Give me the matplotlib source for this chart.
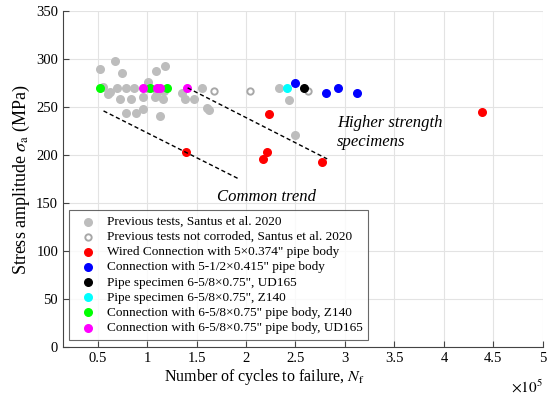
import matplotlib
matplotlib.use("Agg")
import matplotlib.pyplot as plt

plt.rcParams['font.family'] = ['Liberation Serif', 'DejaVu Serif']
plt.rcParams['mathtext.fontset'] = 'stix'

# ── dados (N em ciclos, sigma em MPa) ────────────────────────────────────────
prev_N = [0.52e5, 0.68e5, 0.75e5, 0.55e5, 0.63e5, 0.61e5, 0.70e5, 0.79e5, 0.87e5, 0.73e5,
          0.84e5, 0.79e5, 0.89e5, 0.96e5, 0.96e5, 1.01e5, 1.00e5, 1.09e5, 1.18e5, 1.08e5,
          1.10e5, 1.16e5, 1.13e5, 1.17e5, 1.35e5, 1.38e5, 1.47e5, 1.56e5, 1.61e5, 1.63e5,
          2.33e5, 2.43e5, 2.49e5]
prev_S = [290, 298, 286, 271, 266, 264, 270, 270, 270, 258,
          258, 244, 244, 248, 260, 276, 270, 288, 293, 261,
          265, 258, 241, 267, 265, 258, 258, 270, 249, 247,
          270, 257, 221]

prev_nc_N = [1.68e5, 2.04e5, 2.63e5]
prev_nc_S = [267, 267, 267]

wired_N = [1.39e5, 2.23e5, 2.21e5, 2.17e5, 2.77e5, 4.39e5]
wired_S = [203, 243, 203, 196, 193, 245]

conn55_N = [2.49e5, 2.81e5, 2.93e5, 3.12e5]
conn55_S = [275, 265, 270, 265]

pipe_ud_N = [2.59e5]
pipe_ud_S = [270]

pipe_z_N = [2.41e5]
pipe_z_S = [270]

conn_z_N = [0.52e5, 1.03e5, 1.20e5]
conn_z_S = [270, 270, 270]

conn_ud_N = [0.96e5, 1.10e5, 1.13e5, 1.40e5]
conn_ud_S = [270, 270, 270, 270]

trend_common_N = [0.56e5, 1.93e5]
trend_common_S = [246, 175]
trend_high_N = [1.41e5, 2.82e5]
trend_high_S = [270, 196]

xticks = [0.5e5, 1e5, 1.5e5, 2e5, 2.5e5, 3e5, 3.5e5, 4e5, 4.5e5, 5e5]
xtick_labels = ['0.5', '1', '1.5', '2', '2.5', '3', '3.5', '4', '4.5', '5']
yticks = [0, 50, 100, 150, 200, 250, 300, 350]

# ── gráfico ──────────────────────────────────────────────────────────────────
fig = plt.figure(figsize=(5.5, 3.97), dpi=100)
ax = fig.add_axes([0.1145, 0.126, 0.8725, 0.846])

ms = 30
ax.scatter(prev_N, prev_S, s=ms, color='#bdbdbd', label='Previous tests, Santus et al. 2020', zorder=3)
ax.scatter(prev_nc_N, prev_nc_S, s=ms * 0.7, facecolors='white', edgecolors='#a8a8a8', linewidths=1.4,
           label='Previous tests not corroded, Santus et al. 2020', zorder=3)
ax.scatter(wired_N, wired_S, s=ms, color='#ff0000', label='Wired Connection with 5×0.374" pipe body', zorder=4)
ax.scatter(conn55_N, conn55_S, s=ms, color='#0000ff', label='Connection with 5-1/2×0.415" pipe body', zorder=4)
ax.scatter(pipe_ud_N, pipe_ud_S, s=ms, color='black', label='Pipe specimen 6-5/8×0.75", UD165', zorder=4)
ax.scatter(pipe_z_N, pipe_z_S, s=ms, color='#00ffff', label='Pipe specimen 6-5/8×0.75", Z140', zorder=4)
ax.scatter(conn_z_N, conn_z_S, s=ms, color='#00ff00', label='Connection with 6-5/8×0.75" pipe body, Z140', zorder=4)
ax.scatter(conn_ud_N, conn_ud_S, s=ms, color='#ff00ff', label='Connection with 6-5/8×0.75" pipe body, UD165', zorder=4)

ax.plot(trend_common_N, trend_common_S, 'k--', linewidth=1.0, dashes=(3, 2), zorder=5)
ax.plot(trend_high_N, trend_high_S, 'k--', linewidth=1.0, dashes=(3, 2), zorder=5)

ax.text(1.71e5, 156, 'Common trend', fontsize=12, style='italic', va='center')
ax.text(2.92e5, 223, 'Higher strength\nspecimens', fontsize=12, style='italic', va='center',
        linespacing=1.25)

ax.set_xlim(0.15e5, 5e5)
ax.set_ylim(0, 350)
ax.set_xticks(xticks)
ax.set_xticklabels(xtick_labels)
ax.set_yticks(yticks)
ax.text(1.0, -0.095, r'$\times 10^{5}$', transform=ax.transAxes, ha='right', va='top', fontsize=11)
ax.tick_params(direction='in', labelsize=10.5, color='#444444', length=4, top=False, right=False)
ax.grid(True, color='#e3e3e3', linewidth=0.8)
ax.set_axisbelow(True)
for s in ['top', 'right']:
    ax.spines[s].set_visible(False)
for s in ['left', 'bottom']:
    ax.spines[s].set_color('#444444')

ax.set_xlabel('Number of cycles to failure, $N_\\mathrm{f}$', fontsize=11.5)
ax.xaxis.set_label_coords(0.42, -0.06, transform=ax.transAxes)
ax.xaxis.label.set_va('top')
ax.set_ylabel('Stress amplitude $\\sigma_\\mathrm{a}$ (MPa)', fontsize=13, labelpad=3)

leg = ax.legend(loc='lower left', fontsize=9.5, frameon=True, fancybox=False, edgecolor='#444444',
                handletextpad=0.4, borderpad=0.45, labelspacing=0.22, borderaxespad=0,
                bbox_to_anchor=(0.0125, 0.021))
leg.get_frame().set_linewidth(0.8)

fig.savefig('out.png', dpi=100)
